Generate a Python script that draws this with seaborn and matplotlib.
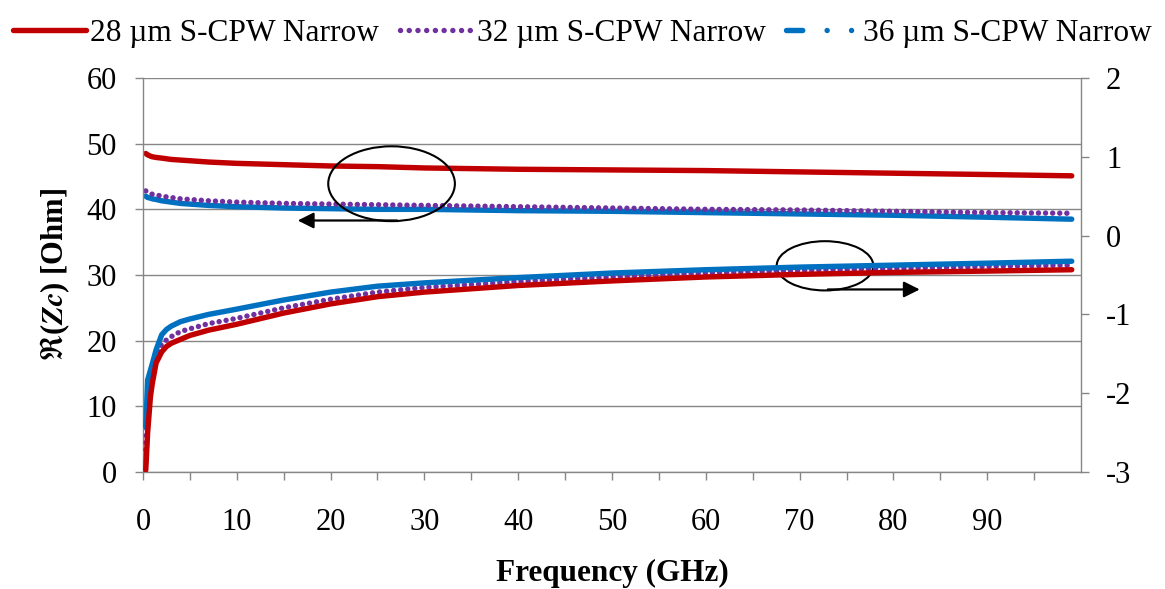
import matplotlib
matplotlib.use("Agg")
import numpy as np
import pandas as pd
import seaborn as sns
import matplotlib.pyplot as plt
from matplotlib.lines import Line2D
from matplotlib.patches import Ellipse

# frequency points (GHz)
freq = [0.3, 0.5, 0.8, 1, 1.4, 2, 2.5, 3, 4, 5, 7, 10, 15, 20, 25, 30,
        40, 50, 60, 70, 80, 90, 99]

# real part of Zc (left axis, Ohm)
re_28 = [48.5, 48.3, 48.1, 48.0, 47.9, 47.8, 47.7, 47.6, 47.5, 47.4, 47.2, 47.0,
         46.8, 46.6, 46.5, 46.3, 46.1, 46.0, 45.9, 45.7, 45.5, 45.3, 45.1]
re_32 = [42.8, 42.6, 42.4, 42.3, 42.2, 42.0, 41.9, 41.8, 41.6, 41.5, 41.3, 41.1,
         40.9, 40.8, 40.7, 40.6, 40.4, 40.2, 40.0, 39.9, 39.7, 39.5, 39.4]
re_36 = [42.0, 41.8, 41.7, 41.6, 41.5, 41.3, 41.2, 41.1, 40.9, 40.8, 40.6, 40.4,
         40.2, 40.1, 40.0, 40.0, 39.8, 39.7, 39.5, 39.3, 39.1, 38.8, 38.5]

# imaginary part (right axis)
im_28 = [-2.975, -2.5, -2.042, -1.875, -1.617, -1.475, -1.408, -1.367, -1.317, -1.267,
         -1.2, -1.125, -0.983, -0.867, -0.775, -0.717, -0.633, -0.575, -0.525,
         -0.492, -0.467, -0.45, -0.433]
im_32 = [-2.717, -2.125, -1.833, -1.75, -1.542, -1.375, -1.325, -1.283, -1.217, -1.183,
         -1.117, -1.05, -0.917, -0.808, -0.717, -0.658, -0.583, -0.525, -0.475,
         -0.442, -0.417, -0.392, -0.375]
im_36 = [-2.425, -1.833, -1.708, -1.625, -1.45, -1.258, -1.192, -1.15, -1.092, -1.058,
         -1.0, -0.933, -0.817, -0.717, -0.642, -0.6, -0.533, -0.475, -0.433,
         -0.4, -0.375, -0.35, -0.325]

labels = ["28 µm S-CPW Narrow", "32 µm S-CPW Narrow", "36 µm S-CPW Narrow"]
colors = ["#C00000", "#7030A0", "#0070C0"]
grey = "#868686"

sns.set_theme(style="white")
plt.rcParams["font.family"] = ["Liberation Serif", "DejaVu Serif"]
plt.rcParams["mathtext.fontset"] = "stix"
plt.rcParams["axes.unicode_minus"] = False
plt.rcParams["text.color"] = "black"
plt.rcParams["axes.labelcolor"] = "black"

fig = plt.figure(figsize=(11.65, 5.89), dpi=100)
ax = fig.add_axes([0.1227, 0.1986, 0.8053, 0.669])
ax2 = ax.twinx()

lw = 3.9
dot = (0.01, 1.3)

# left axis curves
sns.lineplot(x=freq, y=re_28, ax=ax, color=colors[0], lw=lw)
sns.lineplot(x=freq, y=re_36, ax=ax, color=colors[2], lw=lw)
sns.lineplot(x=freq, y=re_32, ax=ax, color=colors[1], lw=lw)
ax.lines[-1].set_dashes(dot)
ax.lines[-1].set_dash_capstyle("round")

# right axis curves
sns.lineplot(x=freq, y=im_32, ax=ax2, color=colors[1], lw=lw)
ax2.lines[-1].set_dashes(dot)
ax2.lines[-1].set_dash_capstyle("round")
sns.lineplot(x=freq, y=im_36, ax=ax2, color=colors[2], lw=lw)
sns.lineplot(x=freq, y=im_28, ax=ax2, color=colors[0], lw=lw)
for ln in ax.lines + ax2.lines:
    ln.set_solid_capstyle("round")

ax.set_xlim(0, 100)
ax.set_ylim(0, 60)
ax2.set_ylim(-3, 2)
ax.set_xticks(range(0, 91, 10))
ax.set_xticks(range(5, 100, 10), minor=True)
ax.set_yticks(range(0, 61, 10))
ax2.set_yticks(range(-3, 3))

ax.grid(axis="y", color=grey, lw=1.0)
ax.grid(axis="x", visible=False)
ax.set_axisbelow(True)
for s in ["top", "right"]:
    ax.spines[s].set_visible(False)
for s in ["top", "left", "bottom"]:
    ax2.spines[s].set_visible(False)
for sp in [ax.spines["left"], ax.spines["bottom"], ax2.spines["right"]]:
    sp.set_color(grey)
    sp.set_linewidth(1.0)

ax.tick_params(axis="x", which="both", bottom=True, direction="out", length=6,
               width=1, color=grey, labelsize=22, labelcolor="black", pad=20)
ax.tick_params(axis="y", left=True, direction="out", length=6, width=1,
               color=grey, labelsize=22, labelcolor="black", pad=13)
ax2.tick_params(axis="y", right=True, direction="out", length=6, width=1,
                color=grey, labelsize=22, labelcolor="black", pad=12)

ax.set_xlabel("Frequency (GHz)", fontsize=22.5, fontweight="bold", labelpad=16)
ax.set_ylabel(r"$\mathfrak{R}$($\mathbfit{Zc}$) [Ohm]", fontsize=22,
              fontweight="bold", labelpad=10)

# annotation ellipses and arrows
ax2.add_patch(Ellipse((26.5, 43.9), 13.5, 11.4, fill=False, ec="black", lw=1.5,
                      transform=ax.transData, clip_on=False))
ax2.add_patch(Ellipse((72.7, 31.4), 10.3, 7.5, fill=False, ec="black", lw=1.5,
                      transform=ax.transData, clip_on=False))
arrow = dict(arrowstyle="-|>", color="black", lw=1.6, mutation_scale=24,
             shrinkA=0, shrinkB=0)
ax2.annotate("", xy=(16.5, 38.3), xycoords=ax.transData, xytext=(27.1, 38.3),
             textcoords=ax.transData, arrowprops=arrow)
ax2.annotate("", xy=(82.8, 27.8), xycoords=ax.transData, xytext=(73.0, 27.8),
             textcoords=ax.transData, arrowprops=arrow)

handles = [
    Line2D([], [], color=colors[0], lw=lw, solid_capstyle="round"),
    Line2D([], [], color=colors[1], lw=lw, dashes=(0.01, 1.6), dash_capstyle="round"),
    Line2D([], [], color=colors[2], lw=lw, dashes=(3, 4.5, 0.01, 4.5, 0.01, 4.5),
           dash_capstyle="round"),
]
fig.legend(handles, labels, loc="upper center", bbox_to_anchor=(0.5, 1.015), ncol=3,
           frameon=False, fontsize=22.6, handlelength=2.3, handletextpad=0.15,
           columnspacing=0.65)

fig.savefig("out.png", dpi=100)
